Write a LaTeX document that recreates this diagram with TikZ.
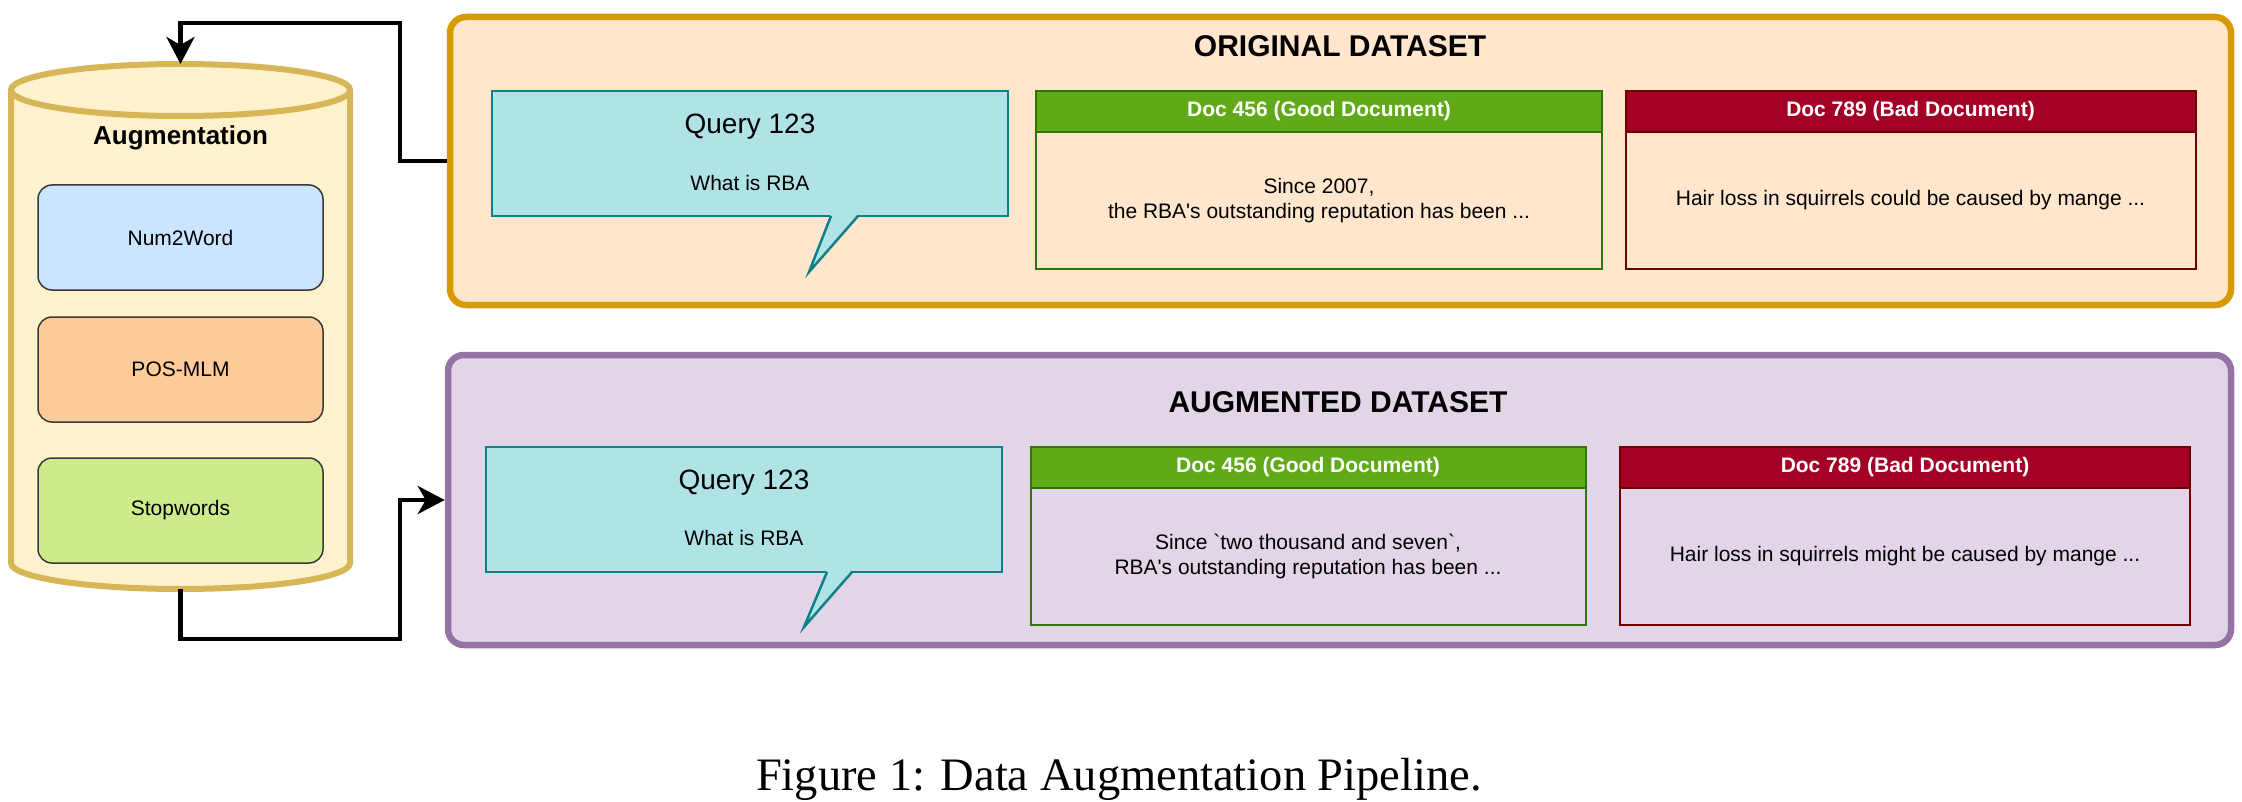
\documentclass[tikz,border=0pt]{standalone}
\usepackage{fontspec}
\setmainfont{Liberation Sans}[Ligatures=TeXOff]
\newfontfamily\capfont{Liberation Serif}
\usetikzlibrary{arrows.meta}
\definecolor{origfill}{HTML}{FFE6CC}
\definecolor{origline}{HTML}{D79B00}
\definecolor{augfill}{HTML}{E1D5E7}
\definecolor{augline}{HTML}{9673A6}
\definecolor{qfill}{HTML}{B0E3E6}
\definecolor{qline}{HTML}{0E8088}
\definecolor{gfill}{HTML}{60A917}
\definecolor{gline}{HTML}{2D7600}
\definecolor{rfill}{HTML}{A20025}
\definecolor{rline}{HTML}{6F0000}
\definecolor{cylfill}{HTML}{FFF2CC}
\definecolor{cylline}{HTML}{D6B656}
\definecolor{boxline}{HTML}{36393D}
\definecolor{bluefill}{HTML}{CCE5FF}
\definecolor{orangefill}{HTML}{FFCC99}
\definecolor{limefill}{HTML}{CDEB8B}
\tikzset{
  panel/.style={rectangle, rounded corners=16pt, line width=6.5pt, inner sep=0pt},
  augstep/.style={rectangle, rounded corners=14pt, draw=boxline, line width=1.5pt,
    minimum width=285pt, minimum height=105pt, inner sep=0pt,
    font=\fontsize{21}{25}\selectfont},
  conn/.style={draw=black, line width=4.5pt, -{Stealth[length=27pt,width=28pt,inset=8pt]}},
  hdr/.style={rectangle, line width=2pt, text=white, minimum height=41pt, inner sep=0pt,
    font=\bfseries\fontsize{21}{25}\selectfont},
  docbody/.style={rectangle, line width=2pt, minimum height=137pt, inner sep=0pt,
    align=center, font=\fontsize{21}{25}\selectfont},
  qbox/.style={rectangle, fill=qfill, draw=qline, line width=2.5pt, inner sep=0pt},
  qtitle/.style={font=\fontsize{28}{33}\selectfont, inner sep=0pt},
  qtext/.style={font=\fontsize{21}{25}\selectfont, inner sep=0pt},
  paneltitle/.style={font=\bfseries\fontsize{30}{36}\selectfont, inner sep=0pt},
}
\begin{document}
\begin{tikzpicture}[x=1pt,y=-1pt]
\useasboundingbox (0,0) rectangle (2242,802);
\fill[white] (0,0) rectangle (2242,802);

% ---------- Augmentation cylinder ----------
\filldraw[fill=cylfill, draw=cylline, line width=6pt]
  (11,90) -- (11,563) arc[start angle=180, end angle=360, x radius=169.5pt, y radius=26pt]
  -- (350,90) arc[start angle=0, end angle=180, x radius=169.5pt, y radius=26pt] -- cycle;
\draw[draw=cylline, line width=6pt]
  (11,90) arc[start angle=180, end angle=360, x radius=169.5pt, y radius=26pt];
\coordinate (cyltop) at (180.5,64);
\coordinate (cylbot) at (180.5,589);
\node[font=\bfseries\fontsize{26}{31}\selectfont] (augtitle) at (180.5,138) {Augmentation};
\node[augstep, fill=bluefill] (num2word) at (180.5,237.5) {Num2Word};
\node[augstep, fill=orangefill] (posmlm) at (180.5,369.5) {POS-MLM};
\node[augstep, fill=limefill] (stopwords) at (180.5,510.5) {Stopwords};

% ---------- Original dataset ----------
\node[panel, fill=origfill, draw=origline, minimum width=1781pt, minimum height=288pt] (orig) at (1340.5,161) {};
\node[paneltitle] (origtitle) at (1340,46) {ORIGINAL DATASET};

\node[qbox, minimum width=516pt, minimum height=125pt] (q1) at (750,153.5) {};
\fill[qfill] (831,214) -- (809,272) -- (858,214) -- cycle;
\draw[qline, line width=2.5pt, line join=miter] (831,216) -- (809,272) -- (858,216);
\node[qtitle] (q1a) at (750,127) {Query 123};
\node[qtext] (q1b) at (750,183) {What is RBA};

\node[docbody, draw=gline, minimum width=566pt] (g1body) at (1319,200.5)
  {Since 2007,\\the RBA's outstanding reputation has been ...};
\node[hdr, fill=gfill, draw=gline, minimum width=566pt] (g1head) at (1319,111.5) {Doc 456 (Good Document)};

\node[docbody, draw=rline, minimum width=570pt] (r1body) at (1910.5,200.5)
  {Hair loss in squirrels could be caused by mange ...};
\node[hdr, fill=rfill, draw=rline, minimum width=570pt] (r1head) at (1910.5,111.5) {Doc 789 (Bad Document)};

% ---------- Augmented dataset ----------
\node[panel, fill=augfill, draw=augline, minimum width=1783pt, minimum height=290pt] (aug) at (1339.5,500) {};
\node[paneltitle] (augdtitle) at (1338,402) {AUGMENTED DATASET};

\node[qbox, minimum width=516pt, minimum height=125pt] (q2) at (744,509.5) {};
\fill[qfill] (827,570) -- (804,627) -- (852,570) -- cycle;
\draw[qline, line width=2.5pt, line join=miter] (827,572) -- (804,627) -- (852,572);
\node[qtitle] (q2a) at (744,483) {Query 123};
\node[qtext] (q2b) at (744,538) {What is RBA};

\node[docbody, draw=gline, minimum width=555pt] (g2body) at (1308,556.5)
  {Since `two thousand and seven`,\\RBA's outstanding reputation has been ...};
\node[hdr, fill=gfill, draw=gline, minimum width=555pt] (g2head) at (1308,467.5) {Doc 456 (Good Document)};

\node[docbody, draw=rline, minimum width=570pt] (r2body) at (1905,556.5)
  {Hair loss in squirrels might be caused by mange ...};
\node[hdr, fill=rfill, draw=rline, minimum width=570pt] (r2head) at (1905,467.5) {Doc 789 (Bad Document)};

% ---------- Connectors ----------
\draw[conn] (orig.west) -- (400,161) -- (400,23) -- (180.5,23) -- (cyltop);
\draw[conn] (cylbot) -- (180.5,639) -- (400,639) -- (400,500) -- (aug.west);

% ---------- Caption ----------
\node[font=\capfont\fontsize{46.5}{55}\selectfont, inner sep=0pt] (caption) at (1119,779)
  {Figure 1: Data Augmentation Pipeline.};
\end{tikzpicture}
\end{document}
